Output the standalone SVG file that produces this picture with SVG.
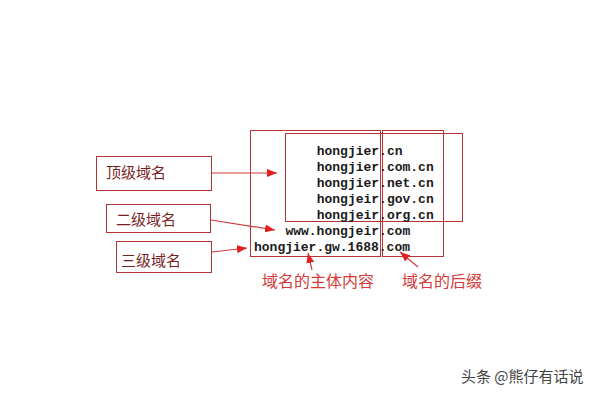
<svg xmlns="http://www.w3.org/2000/svg" width="600" height="400" viewBox="0 0 600 400">
<defs>
<style>
.box{fill:none;stroke:#b83336;stroke-width:1}
.lbl{font-family:"Noto Sans CJK SC","Noto Sans",sans-serif;font-size:15px;fill:#7a1f1f}
.red{font-family:"Noto Sans CJK SC","Noto Sans",sans-serif;font-size:16px;fill:#d43a3a}
.code{font-family:"Liberation Mono","DejaVu Sans Mono",monospace;font-size:13px;font-weight:bold;fill:#1a1a1a}
.wm{font-family:"Noto Sans CJK SC","Noto Sans",sans-serif;font-size:15px;fill:#444}
.arr{stroke:#d0393b;stroke-width:1.2;fill:none;marker-end:url(#ah)}
</style>
<marker id="ah" viewBox="0 0 10 8" refX="10" refY="4" markerWidth="10" markerHeight="8" markerUnits="userSpaceOnUse" orient="auto">
<path d="M0,0 L10,4 L0,8 Z" fill="#e02020"/>
</marker>
</defs>
<rect width="600" height="400" fill="#ffffff"/>
<g id="main-box"><rect class="box" x="250.5" y="130.5" width="130" height="126"/></g>
<g id="top-box"><rect class="box" x="285.5" y="133.5" width="177" height="88"/></g>
<g id="suffix-box"><rect class="box" x="382.5" y="130.5" width="61" height="126"/></g>
<g id="domains">
<text class="code" x="316.7" y="155">hongjier.cn</text>
<text class="code" x="316.7" y="171">hongjier.com.cn</text>
<text class="code" x="316.7" y="187">hongjier.net.cn</text>
<text class="code" x="316.7" y="203">hongjeir.gov.cn</text>
<text class="code" x="316.7" y="219">hongjeir.org.cn</text>
<text class="code" x="285.4" y="235">www.hongjeir.com</text>
<text class="code" x="254" y="251">hongjier.gw.1688.com</text>
</g>
<g id="top-level"><rect class="box" x="96.5" y="156.5" width="115" height="34"/><text class="lbl" x="106" y="178">顶级域名</text></g>
<g id="second-level"><rect class="box" x="106.5" y="204.5" width="104" height="28"/><text class="lbl" x="116" y="225">二级域名</text></g>
<g id="third-level"><rect class="box" x="116.5" y="241.5" width="95" height="31"/><text class="lbl" x="121" y="266">三级域名</text></g>
<g id="main-label"><text class="red" x="262" y="287">域名的主体内容</text></g>
<g id="suffix-label"><text class="red" x="402" y="287">域名的后缀</text></g>
<g id="connectors">
<line class="arr" x1="211" y1="173" x2="277" y2="173"/>
<line class="arr" x1="211" y1="220" x2="275" y2="230"/>
<line class="arr" x1="212" y1="252" x2="247" y2="248"/>
<line class="arr" x1="312" y1="270" x2="308" y2="253"/>
<line class="arr" x1="418" y1="267" x2="400" y2="252"/>
</g>
<g id="watermark"><text class="wm" x="461" y="382">头条 @熊仔有话说</text></g>
</svg>
